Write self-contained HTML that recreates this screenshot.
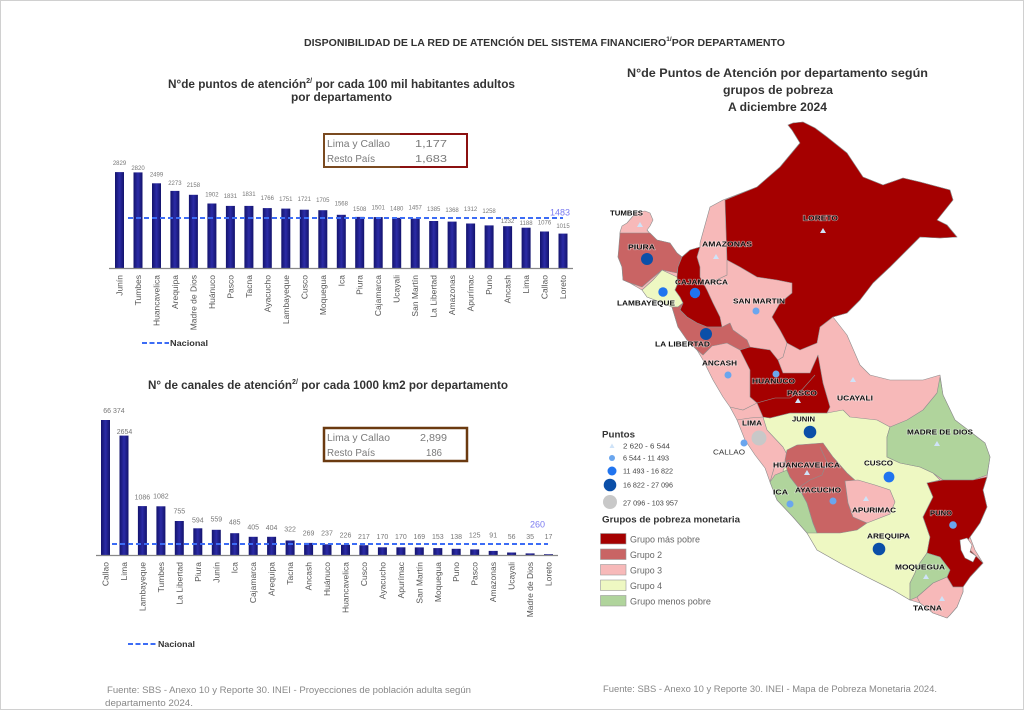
<!DOCTYPE html>
<html><head><meta charset="utf-8"><style>
html,body{margin:0;padding:0;background:#fff;}
svg{display:block;font-family:"Liberation Sans",Arial,sans-serif;}
.val1{font-size:6px;fill:#777;text-anchor:middle;}
.val2{font-size:7px;fill:#777;text-anchor:middle;}
.cat{font-size:8.5px;fill:#555;text-anchor:end;}
.ml{font-size:7px;font-weight:bold;fill:#111;stroke:#fff;stroke-width:1.2px;stroke-opacity:.55;paint-order:stroke;}
.lg{font-size:7px;fill:#444;}
.lgt{font-size:9.5px;fill:#666;}
.ttl{font-weight:bold;fill:#333;}
.box{font-size:10.5px;fill:#7a7a7a;}
.foot{font-size:9px;fill:#888;}
</style></head><body>
<svg width="1024" height="710" viewBox="0 0 1024 710" xmlns="http://www.w3.org/2000/svg">
<defs>
<linearGradient id="bg" x1="0" x2="1" y1="0" y2="0"><stop offset="0" stop-color="#13136c"/><stop offset="0.5" stop-color="#2b2ba6"/><stop offset="1" stop-color="#13136c"/></linearGradient>
</defs>
<rect x="0.5" y="0.5" width="1023" height="709" fill="#fff" stroke="#d0d0d0"/>

<!-- main title -->
<text class="ttl" x="304" y="46" font-size="10.5" textLength="481" lengthAdjust="spacingAndGlyphs">DISPONIBILIDAD DE LA RED DE ATENCIÓN DEL SISTEMA FINANCIERO<tspan font-size="6.5" dy="-5">1/</tspan><tspan font-size="10.5" dy="5">POR DEPARTAMENTO</tspan></text>

<!-- chart 1 title -->
<text class="ttl" x="168" y="88" font-size="11.5" textLength="347" lengthAdjust="spacingAndGlyphs">N°de puntos de atención<tspan font-size="7" dy="-5">2/</tspan><tspan font-size="11.5" dy="5"> por cada 100 mil habitantes adultos</tspan></text>
<text class="ttl" x="291" y="101" font-size="11.5" textLength="101" lengthAdjust="spacingAndGlyphs">por departamento</text>

<!-- box 1 -->
<path d="M400 134 H324 V167 H400" fill="none" stroke="#7a4a20" stroke-width="2"/>
<path d="M400 134 H467 V167 H400" fill="none" stroke="#8b1010" stroke-width="2"/>
<text class="box" x="327" y="147" textLength="63" lengthAdjust="spacingAndGlyphs">Lima y Callao</text>
<text class="box" x="415" y="147" textLength="32" lengthAdjust="spacingAndGlyphs">1,177</text>
<text class="box" x="327" y="162" textLength="48" lengthAdjust="spacingAndGlyphs">Resto País</text>
<text class="box" x="415" y="162" textLength="32" lengthAdjust="spacingAndGlyphs">1,683</text>

<!-- chart 1 bars -->
<g fill="url(#bg)">
<rect x="115.0" y="172.1" width="9" height="95.9"/>
<rect x="133.5" y="172.4" width="9" height="95.6"/>
<rect x="152.0" y="183.3" width="9" height="84.7"/>
<rect x="170.4" y="190.9" width="9" height="77.1"/>
<rect x="188.9" y="194.8" width="9" height="73.2"/>
<rect x="207.4" y="203.5" width="9" height="64.5"/>
<rect x="225.9" y="205.9" width="9" height="62.1"/>
<rect x="244.4" y="205.9" width="9" height="62.1"/>
<rect x="262.8" y="208.1" width="9" height="59.9"/>
<rect x="281.3" y="208.6" width="9" height="59.4"/>
<rect x="299.8" y="209.7" width="9" height="58.3"/>
<rect x="318.3" y="210.2" width="9" height="57.8"/>
<rect x="336.8" y="214.8" width="9" height="53.2"/>
<rect x="355.2" y="216.9" width="9" height="51.1"/>
<rect x="373.7" y="217.1" width="9" height="50.9"/>
<rect x="392.2" y="217.8" width="9" height="50.2"/>
<rect x="410.7" y="218.6" width="9" height="49.4"/>
<rect x="429.2" y="221.0" width="9" height="47.0"/>
<rect x="447.6" y="221.6" width="9" height="46.4"/>
<rect x="466.1" y="223.5" width="9" height="44.5"/>
<rect x="484.6" y="225.4" width="9" height="42.6"/>
<rect x="503.1" y="226.2" width="9" height="41.8"/>
<rect x="521.6" y="227.7" width="9" height="40.3"/>
<rect x="540.0" y="231.5" width="9" height="36.5"/>
<rect x="558.5" y="233.6" width="9" height="34.4"/>
</g>
<line x1="109" y1="268.5" x2="573" y2="268.5" stroke="#888" stroke-width="1.2"/>
<line x1="128" y1="218" x2="563" y2="218" stroke="#3c6cf5" stroke-width="2" stroke-dasharray="5,3"/>
<text x="550" y="215.5" font-size="9" fill="#7a7af0">1483</text>
<g class="val1">
<text x="119.5" y="165">2829</text><text x="138.0" y="170">2820</text><text x="156.5" y="176.5">2499</text>
<text x="174.9" y="185">2273</text><text x="193.4" y="187">2158</text><text x="211.9" y="196.5">1902</text>
<text x="230.4" y="198">1831</text><text x="248.9" y="196">1831</text><text x="267.3" y="200">1766</text>
<text x="285.8" y="201">1751</text><text x="304.3" y="201">1721</text><text x="322.8" y="202">1705</text>
<text x="341.3" y="205.5">1568</text><text x="359.7" y="211">1508</text><text x="378.2" y="209.5">1501</text>
<text x="396.7" y="210.5">1480</text><text x="415.2" y="209.5">1457</text><text x="433.7" y="211">1385</text>
<text x="452.1" y="212">1368</text><text x="470.6" y="211">1312</text><text x="489.1" y="213">1258</text>
<text x="507.6" y="223">1232</text><text x="526.1" y="225">1188</text><text x="544.5" y="224.5">1076</text>
<text x="563.0" y="228">1015</text>
</g>
<g class="cat">
<text transform="translate(122.5,275) rotate(-90)">Junín</text>
<text transform="translate(141.0,275) rotate(-90)">Tumbes</text>
<text transform="translate(159.5,275) rotate(-90)">Huancavelica</text>
<text transform="translate(177.9,275) rotate(-90)">Arequipa</text>
<text transform="translate(196.4,275) rotate(-90)">Madre de Dios</text>
<text transform="translate(214.9,275) rotate(-90)">Huánuco</text>
<text transform="translate(233.4,275) rotate(-90)">Pasco</text>
<text transform="translate(251.9,275) rotate(-90)">Tacna</text>
<text transform="translate(270.3,275) rotate(-90)">Ayacucho</text>
<text transform="translate(288.8,275) rotate(-90)">Lambayeque</text>
<text transform="translate(307.3,275) rotate(-90)">Cusco</text>
<text transform="translate(325.8,275) rotate(-90)">Moquegua</text>
<text transform="translate(344.3,275) rotate(-90)">Ica</text>
<text transform="translate(362.7,275) rotate(-90)">Piura</text>
<text transform="translate(381.2,275) rotate(-90)">Cajamarca</text>
<text transform="translate(399.7,275) rotate(-90)">Ucayali</text>
<text transform="translate(418.2,275) rotate(-90)">San Martín</text>
<text transform="translate(436.7,275) rotate(-90)">La Libertad</text>
<text transform="translate(455.1,275) rotate(-90)">Amazonas</text>
<text transform="translate(473.6,275) rotate(-90)">Apurímac</text>
<text transform="translate(492.1,275) rotate(-90)">Puno</text>
<text transform="translate(510.6,275) rotate(-90)">Ancash</text>
<text transform="translate(529.1,275) rotate(-90)">Lima</text>
<text transform="translate(547.5,275) rotate(-90)">Callao</text>
<text transform="translate(566.0,275) rotate(-90)">Loreto</text>
</g>
<line x1="142" y1="343" x2="169" y2="343" stroke="#3c6cf5" stroke-width="2" stroke-dasharray="5,2.5"/>
<text x="170" y="346" font-size="8.5" font-weight="bold" fill="#333" textLength="38" lengthAdjust="spacingAndGlyphs">Nacional</text>

<!-- chart 2 title -->
<text class="ttl" x="148" y="389" font-size="11.5" textLength="360" lengthAdjust="spacingAndGlyphs">N° de canales de atención<tspan font-size="7" dy="-5">2/</tspan><tspan font-size="11.5" dy="5"> por cada 1000 km2 por departamento</tspan></text>

<!-- box 2 -->
<rect x="324" y="428" width="143" height="33" fill="none" stroke="#6b3a10" stroke-width="2.5"/>
<text class="box" x="327" y="441" textLength="63" lengthAdjust="spacingAndGlyphs">Lima y Callao</text>
<text class="box" x="420" y="441" textLength="27" lengthAdjust="spacingAndGlyphs">2,899</text>
<text class="box" x="327" y="456" textLength="48" lengthAdjust="spacingAndGlyphs">Resto País</text>
<text class="box" x="426" y="456" textLength="16" lengthAdjust="spacingAndGlyphs">186</text>

<!-- chart 2 bars -->
<g fill="url(#bg)">
<rect x="101.0" y="420" width="9" height="135"/>
<rect x="119.5" y="435.6" width="9" height="119.4"/>
<rect x="137.9" y="506.1" width="9" height="48.9"/>
<rect x="156.4" y="506.3" width="9" height="48.7"/>
<rect x="174.8" y="521.0" width="9" height="34.0"/>
<rect x="193.3" y="528.3" width="9" height="26.7"/>
<rect x="211.8" y="529.8" width="9" height="25.2"/>
<rect x="230.2" y="533.2" width="9" height="21.8"/>
<rect x="248.7" y="536.8" width="9" height="18.2"/>
<rect x="267.1" y="536.8" width="9" height="18.2"/>
<rect x="285.6" y="540.5" width="9" height="14.5"/>
<rect x="304.1" y="542.9" width="9" height="12.1"/>
<rect x="322.5" y="544.3" width="9" height="10.7"/>
<rect x="341.0" y="544.8" width="9" height="10.2"/>
<rect x="359.4" y="545.2" width="9" height="9.8"/>
<rect x="377.9" y="547.3" width="9" height="7.7"/>
<rect x="396.4" y="547.3" width="9" height="7.7"/>
<rect x="414.8" y="547.4" width="9" height="7.6"/>
<rect x="433.3" y="548.1" width="9" height="6.9"/>
<rect x="451.7" y="548.8" width="9" height="6.2"/>
<rect x="470.2" y="549.4" width="9" height="5.6"/>
<rect x="488.7" y="550.9" width="9" height="4.1"/>
<rect x="507.1" y="552.5" width="9" height="2.5"/>
<rect x="525.6" y="553.4" width="9" height="1.6"/>
<rect x="544.0" y="554.2" width="9" height="0.8"/>
</g>
<line x1="96" y1="555.5" x2="558" y2="555.5" stroke="#888" stroke-width="1.2"/>
<line x1="112" y1="544" x2="548" y2="544" stroke="#3c6cf5" stroke-width="2" stroke-dasharray="5,3"/>
<text x="530" y="527.5" font-size="9" fill="#7a7af0">260</text>
<g class="val2">
<text x="114" y="413">66 374</text><text x="124.5" y="434">2654</text>
<text x="142.4" y="499.5">1086</text><text x="160.9" y="498.5">1082</text><text x="179.3" y="513.5">755</text>
<text x="197.8" y="522.5">594</text><text x="216.3" y="521.5">559</text><text x="234.7" y="524.5">485</text>
<text x="253.2" y="529.5">405</text><text x="271.6" y="530">404</text><text x="290.1" y="531.5">322</text>
<text x="308.6" y="535.5">269</text><text x="327.0" y="535.5">237</text><text x="345.5" y="537.5">226</text>
<text x="363.9" y="539">217</text><text x="382.4" y="539">170</text><text x="400.9" y="539">170</text>
<text x="419.3" y="539">169</text><text x="437.8" y="539">153</text><text x="456.2" y="539">138</text>
<text x="474.7" y="537.5">125</text><text x="493.2" y="537.5">91</text><text x="511.6" y="539">56</text>
<text x="530.1" y="539">35</text><text x="548.5" y="539">17</text>
</g>
<g class="cat">
<text transform="translate(108.5,562) rotate(-90)">Callao</text>
<text transform="translate(127.0,562) rotate(-90)">Lima</text>
<text transform="translate(145.4,562) rotate(-90)">Lambayeque</text>
<text transform="translate(163.9,562) rotate(-90)">Tumbes</text>
<text transform="translate(182.3,562) rotate(-90)">La Libertad</text>
<text transform="translate(200.8,562) rotate(-90)">Piura</text>
<text transform="translate(219.3,562) rotate(-90)">Junín</text>
<text transform="translate(237.7,562) rotate(-90)">Ica</text>
<text transform="translate(256.2,562) rotate(-90)">Cajamarca</text>
<text transform="translate(274.6,562) rotate(-90)">Arequipa</text>
<text transform="translate(293.1,562) rotate(-90)">Tacna</text>
<text transform="translate(311.6,562) rotate(-90)">Ancash</text>
<text transform="translate(330.0,562) rotate(-90)">Huánuco</text>
<text transform="translate(348.5,562) rotate(-90)">Huancavelica</text>
<text transform="translate(366.9,562) rotate(-90)">Cusco</text>
<text transform="translate(385.4,562) rotate(-90)">Ayacucho</text>
<text transform="translate(403.9,562) rotate(-90)">Apurímac</text>
<text transform="translate(422.3,562) rotate(-90)">San Martín</text>
<text transform="translate(440.8,562) rotate(-90)">Moquegua</text>
<text transform="translate(459.2,562) rotate(-90)">Puno</text>
<text transform="translate(477.7,562) rotate(-90)">Pasco</text>
<text transform="translate(496.2,562) rotate(-90)">Amazonas</text>
<text transform="translate(514.6,562) rotate(-90)">Ucayali</text>
<text transform="translate(533.1,562) rotate(-90)">Madre de Dios</text>
<text transform="translate(551.5,562) rotate(-90)">Loreto</text>
</g>
<line x1="128" y1="644" x2="157" y2="644" stroke="#3c6cf5" stroke-width="2" stroke-dasharray="5,2.5"/>
<text x="158" y="647" font-size="8.5" font-weight="bold" fill="#333" textLength="37" lengthAdjust="spacingAndGlyphs">Nacional</text>

<!-- footnotes -->
<text class="foot" x="107" y="693" textLength="364" lengthAdjust="spacingAndGlyphs">Fuente: SBS - Anexo 10 y Reporte 30. INEI - Proyecciones de población adulta según</text>
<text class="foot" x="105" y="706" textLength="88" lengthAdjust="spacingAndGlyphs">departamento 2024.</text>
<text class="foot" x="603" y="692" textLength="334" lengthAdjust="spacingAndGlyphs">Fuente: SBS - Anexo 10 y Reporte 30. INEI - Mapa de Pobreza Monetaria 2024.</text>

<!-- map title -->
<text class="ttl" x="627" y="77" font-size="11.5" textLength="301" lengthAdjust="spacingAndGlyphs">N°de Puntos de Atención por departamento según</text>
<text class="ttl" x="723" y="94" font-size="11.5" textLength="110" lengthAdjust="spacingAndGlyphs">grupos de pobreza</text>
<text class="ttl" x="728" y="111" font-size="11.5" textLength="99" lengthAdjust="spacingAndGlyphs">A diciembre 2024</text>

<!-- MAP -->
<g stroke="#8e8e8e" stroke-width="0.6" stroke-linejoin="round">
<polygon fill="#f7b9b9" points="620,232 622,226 627,223 633,216 637,212 645,211 650,213 653,220 650,226 647,230 652,236 657,240 670,243 677,253 682,257 690,250 700,247 700,243 705,225 710,207 723,200 757,187 780,167 800,143 792,130 788,125 793,123 803,122 815,128 827,137 847,153 863,177 883,185 903,178 920,182 950,190 953,200 937,220 947,225 957,237 940,238 920,237 907,250 890,267 873,283 860,300 847,313 833,317 847,335 860,365 870,375 890,380 923,380 940,375 943,395 955,420 972,433 985,443 990,457 987,477 983,490 987,507 980,523 970,537 975,550 983,563 970,577 963,587 963,592 957,607 950,615 947,618 933,613 920,603 910,600 893,590 867,577 840,563 817,550 807,533 793,517 777,500 770,482 765,468 755,455 745,440 737,420 730,407 723,397 713,380 703,360 697,350 687,340 678,327 672,307 660,302 647,297 642,290 630,283 623,280 622,267 618,257 620,245"/>
<polygon fill="#eef8c2" points="763,417 770,418 790,413 827,413 843,410 850,417 877,420 890,427 887,437 887,457 900,463 920,467 933,473 940,480 927,483 933,497 923,517 930,537 927,553 917,567 915,573 910,583 910,600 893,590 867,577 840,563 817,550 807,533 800,490 787,480 783,470 790,460 783,447 767,430"/>
<polygon fill="#a50000" points="725,200 757,187 780,167 800,143 792,130 788,125 793,123 803,122 815,128 827,137 847,153 863,177 883,185 903,178 920,182 950,190 953,200 937,220 947,225 957,237 940,238 920,237 907,250 890,267 873,283 860,300 847,313 833,317 820,327 817,343 800,350 787,343 780,330 772,317 780,303 792,293 792,283 777,280 757,277 740,267 727,260"/>
<polygon fill="#c96464" points="620,233 637,233 650,233 657,240 670,243 677,253 682,257 678,267 677,273 662,270 650,280 642,287 630,283 623,280 622,267 618,257"/>
<polygon fill="#eef8c2" points="642,290 653,280 662,270 677,277 678,283 675,290 680,297 683,303 678,307 672,307 660,302 647,297"/>
<polygon fill="#a50000" points="682,257 690,250 700,247 697,257 700,267 700,277 707,290 713,303 720,317 722,327 707,327 697,323 687,317 680,310 683,303 680,297 675,290 678,283 677,277 678,267"/>
<polygon fill="#c96464" points="678,307 683,303 680,310 687,317 697,323 707,327 722,327 730,323 733,330 747,340 750,347 740,350 727,343 712,346 703,355 697,350 687,340 678,327 672,307"/>
<polygon fill="#a50000" points="740,350 750,347 770,350 778,360 783,373 810,373 818,355 823,383 830,407 827,413 790,413 770,418 763,417 757,403 750,397 750,370"/>
<polygon fill="#b0d49c" points="890,427 907,420 923,410 937,393 940,377 943,395 955,420 972,433 985,443 990,457 987,475 973,480 943,480 933,473 920,467 900,463 887,457 887,437"/>
<polygon fill="#a50000" points="927,483 943,480 973,480 987,477 983,490 987,507 980,523 970,537 965,545 975,555 983,563 970,577 963,587 953,587 947,577 950,570 940,557 927,553 930,537 923,517 933,497"/>
<polygon fill="#f7b9b9" points="947,577 953,587 963,587 963,592 957,607 950,615 947,618 933,613 920,603 917,597 933,583"/>
<polygon fill="#b0d49c" points="917,567 927,553 940,557 950,570 947,577 933,583 917,597 910,600 910,583 915,573"/>
<polygon fill="#b0d49c" points="770,482 775,475 787,470 790,477 800,490 807,503 813,523 817,533 807,533 793,517 777,500"/>
<polygon fill="#c96464" points="787,450 797,445 823,443 833,457 847,473 857,482 845,481 848,503 853,517 867,523 857,530 840,533 817,533 813,523 807,503 800,490 790,477 787,470 785,460"/>
<polygon fill="#f7b9b9" points="845,481 858,480 875,485 890,490 895,502 890,514 867,523 853,517 848,503"/>
<polygon fill="#ffffff" points="960,540 967,538 972,545 970,552 976,556 973,562 965,558 961,550"/>
</g>
<g fill="none" stroke="#8e8e8e" stroke-width="0.6">
<polyline points="710,283 727,275 727,260"/>
<polyline points="703,280 710,283"/>
<polyline points="730,407 743,410 757,403"/>
<polyline points="757,403 775,398 790,398 800,392 815,375"/>
<polyline points="820,447 827,462 822,475 810,480 798,488"/>
<polyline points="787,343 783,357 778,360"/>
<polyline points="737,420 750,418 763,417"/>
<polyline points="790,460 775,465 770,482"/>
</g>

<!-- map symbols -->
<g>
<polygon points="640,222 643,227 637,227" fill="#cfe3f8"/>
<polygon points="823,228 826,233 820,233" fill="#cfe3f8"/>
<polygon points="716,254 719,259 713,259" fill="#cfe3f8"/>
<polygon points="798,398 801,403 795,403" fill="#cfe3f8"/>
<polygon points="853,377 856,382 850,382" fill="#cfe3f8"/>
<polygon points="807,470 810,475 804,475" fill="#cfe3f8"/>
<polygon points="866,496 869,501 863,501" fill="#cfe3f8"/>
<polygon points="937,441 940,446 934,446" fill="#cfe3f8"/>
<polygon points="926,574 929,579 923,579" fill="#cfe3f8"/>
<polygon points="942,596 945,601 939,601" fill="#cfe3f8"/>
<circle cx="647" cy="259" r="6" fill="#0b4fa8"/>
<circle cx="706" cy="334" r="6" fill="#0b4fa8"/>
<circle cx="810" cy="432" r="6.3" fill="#0b4fa8"/>
<circle cx="879" cy="549" r="6.3" fill="#0b4fa8"/>
<circle cx="663" cy="292" r="4.7" fill="#2074ef"/>
<circle cx="695" cy="293" r="5.2" fill="#2074ef"/>
<circle cx="889" cy="477" r="5.4" fill="#2074ef"/>
<circle cx="756" cy="311" r="3.5" fill="#6aa6ee"/>
<circle cx="728" cy="375" r="3.5" fill="#6aa6ee"/>
<circle cx="776" cy="374" r="3.5" fill="#6aa6ee"/>
<circle cx="744" cy="443" r="3.5" fill="#6aa6ee"/>
<circle cx="790" cy="504" r="3.5" fill="#6aa6ee"/>
<circle cx="833" cy="501" r="3.5" fill="#6aa6ee"/>
<circle cx="953" cy="525" r="3.8" fill="#6aa6ee"/>
<circle cx="759" cy="438" r="7.5" fill="#c8c8c8"/>
</g>

<!-- map labels -->
<g class="ml">
<text x="610" y="215.5" textLength="33" lengthAdjust="spacingAndGlyphs">TUMBES</text>
<text x="803" y="220.5" textLength="35" lengthAdjust="spacingAndGlyphs">LORETO</text>
<text x="628" y="249.5" textLength="27" lengthAdjust="spacingAndGlyphs">PIURA</text>
<text x="702" y="246.5" textLength="50" lengthAdjust="spacingAndGlyphs">AMAZONAS</text>
<text x="675" y="284.5" textLength="53" lengthAdjust="spacingAndGlyphs">CAJAMARCA</text>
<text x="617" y="305.5" textLength="58" lengthAdjust="spacingAndGlyphs">LAMBAYEQUE</text>
<text x="733" y="303.5" textLength="52" lengthAdjust="spacingAndGlyphs">SAN MARTIN</text>
<text x="655" y="346.5" textLength="55" lengthAdjust="spacingAndGlyphs">LA LIBERTAD</text>
<text x="702" y="365.5" textLength="35" lengthAdjust="spacingAndGlyphs">ANCASH</text>
<text x="752" y="383.5" textLength="43" lengthAdjust="spacingAndGlyphs">HUANUCO</text>
<text x="787" y="395.5" textLength="30" lengthAdjust="spacingAndGlyphs">PASCO</text>
<text x="837" y="400.5" textLength="36" lengthAdjust="spacingAndGlyphs">UCAYALI</text>
<text x="742" y="425.5" textLength="20" lengthAdjust="spacingAndGlyphs">LIMA</text>
<text x="792" y="421.5" textLength="23" lengthAdjust="spacingAndGlyphs">JUNIN</text>
<text x="907" y="434.5" textLength="66" lengthAdjust="spacingAndGlyphs">MADRE DE DIOS</text>
<text x="773" y="467.5" textLength="67" lengthAdjust="spacingAndGlyphs">HUANCAVELICA</text>
<text x="864" y="465.5" textLength="29" lengthAdjust="spacingAndGlyphs">CUSCO</text>
<text x="773" y="494.5" textLength="15" lengthAdjust="spacingAndGlyphs">ICA</text>
<text x="795" y="492.5" textLength="46" lengthAdjust="spacingAndGlyphs">AYACUCHO</text>
<text x="852" y="512.5" textLength="44" lengthAdjust="spacingAndGlyphs">APURIMAC</text>
<text x="930" y="515.5" textLength="22" lengthAdjust="spacingAndGlyphs">PUNO</text>
<text x="867" y="538.5" textLength="43" lengthAdjust="spacingAndGlyphs">AREQUIPA</text>
<text x="895" y="569.5" textLength="50" lengthAdjust="spacingAndGlyphs">MOQUEGUA</text>
<text x="913" y="610.5" textLength="29" lengthAdjust="spacingAndGlyphs">TACNA</text>
</g>
<text x="713" y="454.5" font-size="7" fill="#333" textLength="32" lengthAdjust="spacingAndGlyphs">CALLAO</text>

<!-- map legend -->
<text x="602" y="437.5" font-size="9" font-weight="bold" fill="#333" textLength="33" lengthAdjust="spacingAndGlyphs">Puntos</text>
<polygon points="612,443.5 614.5,448 609.5,448" fill="#cfe3f8"/>
<text class="lg" x="623" y="448.5" textLength="47" lengthAdjust="spacingAndGlyphs">2 620 - 6 544</text>
<circle cx="612" cy="458" r="3" fill="#6aa6ee"/>
<text class="lg" x="623" y="460.5" textLength="46" lengthAdjust="spacingAndGlyphs">6 544 - 11 493</text>
<circle cx="612" cy="471" r="4.5" fill="#2074ef"/>
<text class="lg" x="623" y="473.5" textLength="50" lengthAdjust="spacingAndGlyphs">11 493 - 16 822</text>
<circle cx="610" cy="485" r="6.3" fill="#0b4fa8"/>
<text class="lg" x="623" y="487.5" textLength="50" lengthAdjust="spacingAndGlyphs">16 822 - 27 096</text>
<circle cx="610" cy="502" r="7" fill="#c8c8c8"/>
<text class="lg" x="623" y="505.5" textLength="55" lengthAdjust="spacingAndGlyphs">27 096 - 103 957</text>
<text x="602" y="522.5" font-size="9" font-weight="bold" fill="#333" textLength="138" lengthAdjust="spacingAndGlyphs">Grupos de pobreza monetaria</text>
<g stroke="#999" stroke-width="0.6">
<rect x="600.5" y="533.5" width="25.5" height="10.5" fill="#a50000"/>
<rect x="600.5" y="549" width="25.5" height="10.5" fill="#c96464"/>
<rect x="600.5" y="564.5" width="25.5" height="10.5" fill="#f7b9b9"/>
<rect x="600.5" y="580" width="25.5" height="10.5" fill="#eef8c2"/>
<rect x="600.5" y="595.5" width="25.5" height="10.5" fill="#b0d49c"/>
</g>
<text class="lgt" x="630" y="542.5" textLength="70" lengthAdjust="spacingAndGlyphs">Grupo más pobre</text>
<text class="lgt" x="630" y="558" textLength="32" lengthAdjust="spacingAndGlyphs">Grupo 2</text>
<text class="lgt" x="630" y="573.5" textLength="32" lengthAdjust="spacingAndGlyphs">Grupo 3</text>
<text class="lgt" x="630" y="589" textLength="32" lengthAdjust="spacingAndGlyphs">Grupo 4</text>
<text class="lgt" x="630" y="604.5" textLength="81" lengthAdjust="spacingAndGlyphs">Grupo menos pobre</text>
</svg>
</body></html>
